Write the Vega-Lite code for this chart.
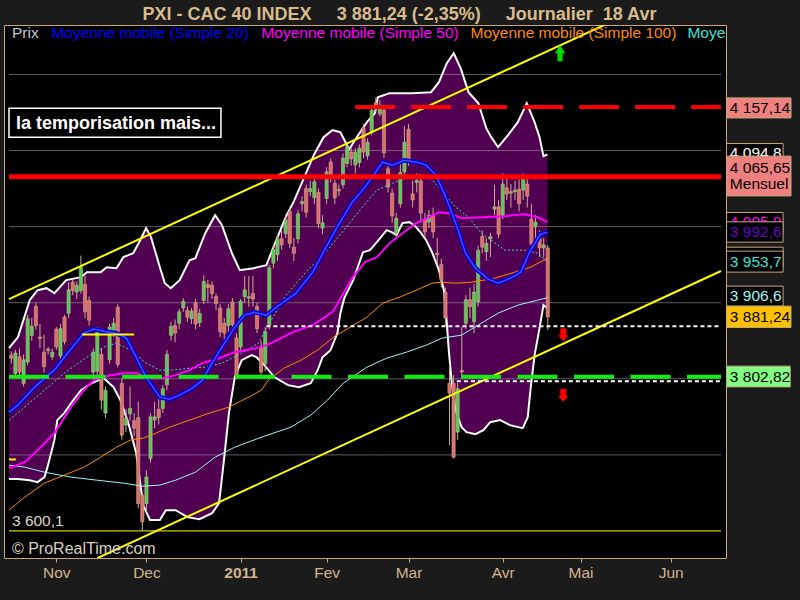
{
"$schema": "https://vega.github.io/schema/vega-lite/v6.json",
"width": 722, "height": 533,
"autosize": {"type": "none"},
"padding": {"left": 4, "top": 25, "right": 74, "bottom": 42},
"background": "#1b1b1b",
"config": {"view": {"stroke": "#c8aa78", "strokeWidth": 1, "fill": "#000000"}, "font": "Liberation Sans"},
"datasets": {
"up": [{"i":-11.56,"v":3840.3},{"i":-9.39,"v":3854.7},{"i":-6.5,"v":3903.4},{"i":-4.58,"v":3916.5},{"i":-2.41,"v":3919.1},{"i":-0.48,"v":3912.6},{"i":2.41,"v":3929.7},{"i":6.02,"v":3933.6},{"i":7.46,"v":3940.2},{"i":10.84,"v":3940.2},{"i":12.28,"v":3946.7},{"i":14.69,"v":3945.4},{"i":16.37,"v":3959.9},{"i":18.78,"v":3965.1},{"i":20.47,"v":3982.2},{"i":21.91,"v":3998},{"i":23.12,"v":3986.2},{"i":25.28,"v":3946.7},{"i":26.49,"v":3925.7},{"i":27.93,"v":3919.1},{"i":30.1,"v":3929.7},{"i":32.51,"v":3955.9},{"i":33.95,"v":3958.6},{"i":36.36,"v":3991.4},{"i":38.77,"v":4015.1},{"i":40.45,"v":4001.9},{"i":42.86,"v":3965.1},{"i":44.79,"v":3942.8},{"i":48.16,"v":3945.4},{"i":51.29,"v":3949.4},{"i":53.21,"v":3975.6},{"i":56.1,"v":4013.8},{"i":58.03,"v":4033.5},{"i":60.44,"v":4063.7},{"i":62.85,"v":4093.9},{"i":65.25,"v":4117.6},{"i":67.42,"v":4126.8},{"i":69.35,"v":4124.1},{"i":71.51,"v":4101.8},{"i":73.68,"v":4120.2},{"i":75.85,"v":4137.3},{"i":77.78,"v":4149.1},{"i":78.5,"v":4170.1},{"i":81.39,"v":4175.4},{"i":86.93,"v":4175.4},{"i":91.5,"v":4176.7},{"i":93.43,"v":4189.8},{"i":95.35,"v":4214.8},{"i":97.04,"v":4228},{"i":98.72,"v":4208.2},{"i":100.65,"v":4176.7},{"i":103.06,"v":4162.2},{"i":104.98,"v":4129.4},{"i":106.19,"v":4117.6},{"i":107.87,"v":4104.4},{"i":110.28,"v":4120.2},{"i":112.69,"v":4137.3},{"i":114.86,"v":4162.2},{"i":116.78,"v":4137.3},{"i":117.99,"v":4117.6},{"i":118.95,"v":4092.6},{"i":119.92,"v":4094.8}],
"lo": [{"i":-11.56,"v":3668.2},{"i":-9.39,"v":3668.2},{"i":-6.5,"v":3666.8},{"i":-4.58,"v":3664.2},{"i":-2.89,"v":3670.8},{"i":-2.17,"v":3683.9},{"i":-0.48,"v":3719.4},{"i":0.24,"v":3745.7},{"i":1.93,"v":3754.9},{"i":3.61,"v":3768},{"i":6.02,"v":3785.1},{"i":8.67,"v":3794.3},{"i":11.56,"v":3800.9},{"i":13.97,"v":3789},{"i":15.65,"v":3771.9},{"i":17.58,"v":3741.8},{"i":19.5,"v":3702.3},{"i":21.19,"v":3634},{"i":22.88,"v":3614.3},{"i":25.28,"v":3614.3},{"i":26.73,"v":3627.4},{"i":29.14,"v":3627.4},{"i":32.03,"v":3618.2},{"i":34.91,"v":3615.6},{"i":38.04,"v":3623.5},{"i":39.73,"v":3636.6},{"i":40.93,"v":3693.1},{"i":42.14,"v":3754.9},{"i":43.58,"v":3802.3},{"i":45.27,"v":3824.5},{"i":47.68,"v":3831.1},{"i":48.88,"v":3828.4},{"i":50.81,"v":3818},{"i":53.21,"v":3802.3},{"i":56.59,"v":3791.7},{"i":59.23,"v":3789},{"i":62.12,"v":3794.3},{"i":63.81,"v":3811.4},{"i":65.01,"v":3828.4},{"i":66.94,"v":3837.7},{"i":68.63,"v":3860},{"i":69.35,"v":3886.3},{"i":70.31,"v":3906},{"i":72.48,"v":3929.7},{"i":74.89,"v":3966.4},{"i":76.57,"v":3969.1},{"i":78.26,"v":3979.6},{"i":80.66,"v":3995.4},{"i":81.87,"v":3992.7},{"i":83.07,"v":3988.8},{"i":84.52,"v":4004.6},{"i":86.2,"v":4005.9},{"i":87.41,"v":4001.9},{"i":89.09,"v":3991.4},{"i":90.3,"v":3982.2},{"i":91.74,"v":3966.4},{"i":93.43,"v":3942.8},{"i":94.63,"v":3916.5},{"i":95.35,"v":3873.1},{"i":95.83,"v":3837.7},{"i":96.56,"v":3794.3},{"i":97.52,"v":3758.8},{"i":98.96,"v":3736.5},{"i":100.17,"v":3729.9},{"i":102.33,"v":3727.3},{"i":104.26,"v":3732.5},{"i":105.95,"v":3743},{"i":108.36,"v":3745.7},{"i":110.76,"v":3739.1},{"i":113.89,"v":3735.2},{"i":115.1,"v":3749.6},{"i":115.82,"v":3787.7},{"i":116.78,"v":3831.1},{"i":117.99,"v":3866.6},{"i":118.95,"v":3896.8},{"i":119.92,"v":3892.8}],
"sma20": [{"i":-11.56,"v":3756.2},{"i":-9.39,"v":3765.4},{"i":-6.02,"v":3785.1},{"i":-2.89,"v":3800.9},{"i":-0.48,"v":3811.4},{"i":1.93,"v":3828.4},{"i":4.33,"v":3844.2},{"i":6.74,"v":3860},{"i":9.15,"v":3865.3},{"i":11.56,"v":3862.6},{"i":14.69,"v":3860},{"i":17.1,"v":3853.4},{"i":19.5,"v":3828.4},{"i":21.91,"v":3802.3},{"i":25.28,"v":3775.9},{"i":27.69,"v":3773.3},{"i":30.1,"v":3778.5},{"i":33.23,"v":3787.7},{"i":35.64,"v":3798.2},{"i":38.04,"v":3820.6},{"i":40.45,"v":3841.6},{"i":43.58,"v":3867.9},{"i":45.99,"v":3883.7},{"i":48.4,"v":3887.6},{"i":51.29,"v":3883.7},{"i":54.42,"v":3896.8},{"i":58.51,"v":3912.6},{"i":62.61,"v":3940.2},{"i":65.74,"v":3971.7},{"i":68.87,"v":4001.9},{"i":72.24,"v":4032.1},{"i":75.37,"v":4051.9},{"i":77.78,"v":4070.3},{"i":79.7,"v":4084.7},{"i":82.11,"v":4080.8},{"i":85,"v":4087.3},{"i":88.13,"v":4084.7},{"i":90.3,"v":4080.8},{"i":92.7,"v":4067.6},{"i":95.11,"v":4038.7},{"i":97.52,"v":4004.6},{"i":99.93,"v":3965.1},{"i":102.34,"v":3945.4},{"i":105.47,"v":3931},{"i":107.87,"v":3925.7},{"i":111,"v":3932.3},{"i":113.41,"v":3940.2},{"i":115.82,"v":3969.1},{"i":118.23,"v":3990},{"i":119.92,"v":3992.6}],
"sma50": [{"i":-11.56,"v":3682.6},{"i":-7.71,"v":3690.5},{"i":-4.58,"v":3706.3},{"i":-0.48,"v":3728.6},{"i":3.61,"v":3762.8},{"i":6.74,"v":3785.1},{"i":9.15,"v":3798.2},{"i":13.24,"v":3804.8},{"i":16.37,"v":3807.4},{"i":19.5,"v":3807.4},{"i":22.88,"v":3800.9},{"i":26.01,"v":3800.9},{"i":29.14,"v":3804.8},{"i":32.51,"v":3811.4},{"i":35.64,"v":3820.6},{"i":39.73,"v":3827.1},{"i":43.58,"v":3835},{"i":50.08,"v":3841.6},{"i":52.97,"v":3848.2},{"i":57.79,"v":3861.3},{"i":62.61,"v":3870.5},{"i":67.42,"v":3887.6},{"i":69.83,"v":3909.9},{"i":72.24,"v":3932.3},{"i":75.37,"v":3953.3},{"i":78.26,"v":3959.9},{"i":81.39,"v":3978.3},{"i":84.52,"v":3991.4},{"i":87.89,"v":4004.6},{"i":91.02,"v":4012.4},{"i":93.43,"v":4019},{"i":95.83,"v":4017.7},{"i":98.96,"v":4011.1},{"i":103.78,"v":4012.4},{"i":109.56,"v":4013.8},{"i":114.38,"v":4016.4},{"i":117.51,"v":4012.4},{"i":119.92,"v":4005.9}],
"sma100": [{"i":-11.56,"v":3627.4},{"i":-7.71,"v":3644.5},{"i":-2.89,"v":3662.9},{"i":1.93,"v":3673.4},{"i":6.74,"v":3683.9},{"i":10.84,"v":3697},{"i":14.69,"v":3710.2},{"i":18.06,"v":3719.4},{"i":21.19,"v":3722},{"i":24.32,"v":3728.6},{"i":27.69,"v":3736.5},{"i":32.51,"v":3745.7},{"i":37.32,"v":3754.9},{"i":42.14,"v":3762.8},{"i":46.95,"v":3775.9},{"i":50.08,"v":3785.1},{"i":51.77,"v":3798.2},{"i":55.62,"v":3814},{"i":59.72,"v":3824.5},{"i":63.81,"v":3837.7},{"i":67.66,"v":3854.7},{"i":71.76,"v":3867.9},{"i":75.85,"v":3881},{"i":79.7,"v":3899.4},{"i":83.8,"v":3907.3},{"i":87.89,"v":3916.5},{"i":91.74,"v":3925.7},{"i":94.15,"v":3927},{"i":97.52,"v":3925.7},{"i":101.37,"v":3927},{"i":107.15,"v":3932.3},{"i":111.97,"v":3940.2},{"i":115.82,"v":3946.7},{"i":119.92,"v":3958.6}],
"sma200": [{"i":-11.56,"v":3686.5},{"i":-7.71,"v":3683.9},{"i":-2.89,"v":3677.3},{"i":3.61,"v":3670.8},{"i":9.87,"v":3666.8},{"i":16.37,"v":3662.9},{"i":21.19,"v":3658.9},{"i":25.28,"v":3660.3},{"i":29.14,"v":3666.8},{"i":33.95,"v":3677.3},{"i":38.77,"v":3697},{"i":43.58,"v":3710.2},{"i":50.08,"v":3723.3},{"i":57.31,"v":3736.5},{"i":62.12,"v":3752.2},{"i":66.22,"v":3772},{"i":70.07,"v":3794.3},{"i":75.85,"v":3815.3},{"i":80.66,"v":3827.1},{"i":85.48,"v":3835},{"i":90.3,"v":3844.2},{"i":94.15,"v":3853.4},{"i":98.96,"v":3857.4},{"i":103.78,"v":3873.1},{"i":107.87,"v":3886.3},{"i":112.69,"v":3896.8},{"i":117.51,"v":3903.4},{"i":119.92,"v":3906.6}],
"ema": [{"i":-11.56,"v":3745.7},{"i":-7.71,"v":3762.8},{"i":-2.89,"v":3785.1},{"i":1.93,"v":3807.4},{"i":7.46,"v":3828.4},{"i":11.56,"v":3841.6},{"i":14.69,"v":3846.9},{"i":18.06,"v":3837.7},{"i":21.91,"v":3820.6},{"i":25.28,"v":3811.4},{"i":28.41,"v":3811.4},{"i":32.51,"v":3814},{"i":36.36,"v":3815.3},{"i":40.45,"v":3820.6},{"i":45.27,"v":3833.7},{"i":49.36,"v":3846.9},{"i":51.29,"v":3866},{"i":56.1,"v":3909.9},{"i":60.92,"v":3940.2},{"i":65.74,"v":3966.4},{"i":69.83,"v":3992.7},{"i":73.68,"v":4019},{"i":78.26,"v":4047.9},{"i":82.11,"v":4057.1},{"i":86.2,"v":4065},{"i":89.09,"v":4069},{"i":91.02,"v":4065},{"i":94.15,"v":4047.9},{"i":97.52,"v":4025.6},{"i":100.65,"v":4012.4},{"i":103.78,"v":3991.4},{"i":107.15,"v":3978.3},{"i":109.56,"v":3969.1},{"i":114.38,"v":3969.1},{"i":117.51,"v":3965.1},{"i":119.92,"v":3953.7}],
"candles": [
{"i":-11,"o":3831,"h":3836,"l":3820,"c":3827},{"i":-10,"o":3807,"h":3838,"l":3803,"c":3834},{"i":-9,"o":3829,"h":3840,"l":3800,"c":3809},{"i":-8,"o":3794,"h":3832,"l":3790,"c":3825},{"i":-7,"o":3822,"h":3884,"l":3818,"c":3879},{"i":-6,"o":3857,"h":3880,"l":3850,"c":3869},{"i":-5,"o":3895,"h":3900,"l":3865,"c":3870},{"i":-4,"o":3855,"h":3872,"l":3840,"c":3853},{"i":-3,"o":3835,"h":3858,"l":3808,"c":3816},{"i":-2,"o":3839,"h":3842,"l":3832,"c":3837},{"i":-1,"o":3829,"h":3840,"l":3825,"c":3835},
{"i":0,"o":3865,"h":3868,"l":3838,"c":3842},{"i":1,"o":3830,"h":3872,"l":3826,"c":3866},{"i":2,"o":3881,"h":3884,"l":3845,"c":3849},{"i":3,"o":3886,"h":3927,"l":3880,"c":3917},{"i":4,"o":3927,"h":3930,"l":3910,"c":3916},{"i":5,"o":3914,"h":3928,"l":3905,"c":3923},{"i":6,"o":3916,"h":3962,"l":3912,"c":3947},{"i":7,"o":3924,"h":3935,"l":3880,"c":3888},{"i":8,"o":3903,"h":3908,"l":3870,"c":3877},{"i":9,"o":3809,"h":3840,"l":3800,"c":3835},{"i":10,"o":3810,"h":3868,"l":3805,"c":3862},
{"i":11,"o":3832,"h":3840,"l":3760,"c":3772},{"i":12,"o":3755,"h":3790,"l":3748,"c":3785},{"i":13,"o":3825,"h":3872,"l":3820,"c":3868},{"i":14,"o":3862,"h":3880,"l":3855,"c":3873},{"i":15,"o":3894,"h":3898,"l":3815,"c":3819},{"i":16,"o":3794,"h":3800,"l":3720,"c":3726},{"i":17,"o":3739,"h":3760,"l":3730,"c":3748},{"i":18,"o":3754,"h":3790,"l":3745,"c":3761},{"i":19,"o":3745,"h":3755,"l":3725,"c":3735},{"i":20,"o":3749,"h":3770,"l":3630,"c":3636},
{"i":21,"o":3647,"h":3650,"l":3600.1,"c":3612},{"i":22,"o":3636,"h":3680,"l":3625,"c":3671},{"i":23,"o":3695,"h":3755,"l":3690,"c":3750},{"i":24,"o":3746,"h":3770,"l":3735,"c":3750},{"i":25,"o":3760,"h":3775,"l":3740,"c":3749},{"i":26,"o":3761,"h":3792,"l":3755,"c":3787},{"i":27,"o":3792,"h":3838,"l":3785,"c":3832},{"i":28,"o":3857,"h":3875,"l":3850,"c":3869},{"i":29,"o":3870,"h":3878,"l":3848,"c":3860},{"i":30,"o":3873,"h":3892,"l":3865,"c":3888},
{"i":31,"o":3893,"h":3906,"l":3888,"c":3902},{"i":32,"o":3890,"h":3895,"l":3875,"c":3881},{"i":33,"o":3879,"h":3893,"l":3872,"c":3889},{"i":34,"o":3900,"h":3905,"l":3865,"c":3872},{"i":35,"o":3874,"h":3892,"l":3868,"c":3886},{"i":36,"o":3903,"h":3936,"l":3898,"c":3928},{"i":37,"o":3924,"h":3930,"l":3900,"c":3920},{"i":38,"o":3923,"h":3928,"l":3905,"c":3912},{"i":39,"o":3908,"h":3912,"l":3890,"c":3899},{"i":40,"o":3893,"h":3898,"l":3855,"c":3862},
{"i":41,"o":3873,"h":3880,"l":3852,"c":3860},{"i":42,"o":3870,"h":3898,"l":3862,"c":3892},{"i":43,"o":3901,"h":3906,"l":3865,"c":3871},{"i":44,"o":3854,"h":3860,"l":3800,"c":3805},{"i":45,"o":3842,"h":3905,"l":3835,"c":3902},{"i":46,"o":3908,"h":3935,"l":3900,"c":3917},{"i":47,"o":3906,"h":3935,"l":3895,"c":3908},{"i":48,"o":3912,"h":3935,"l":3895,"c":3905},{"i":49,"o":3895,"h":3900,"l":3860,"c":3866},{"i":50,"o":3842,"h":3850,"l":3800,"c":3809},
{"i":51,"o":3820,"h":3868,"l":3810,"c":3862},{"i":52,"o":3871,"h":3950,"l":3865,"c":3946},{"i":53,"o":3952,"h":3976,"l":3945,"c":3970},{"i":54,"o":3963,"h":3990,"l":3955,"c":3984},{"i":55,"o":3984,"h":3995,"l":3970,"c":3976},{"i":56,"o":3991,"h":4015,"l":3985,"c":4009},{"i":57,"o":4020,"h":4025,"l":3972,"c":3978},{"i":58,"o":3973,"h":3985,"l":3955,"c":3965},{"i":59,"o":3984,"h":4022,"l":3978,"c":4017},{"i":60,"o":4030,"h":4040,"l":4020,"c":4033},
{"i":61,"o":4050,"h":4055,"l":4012,"c":4019},{"i":62,"o":4046,"h":4060,"l":4040,"c":4050},{"i":63,"o":4038,"h":4065,"l":4030,"c":4059},{"i":64,"o":4045,"h":4050,"l":3998,"c":4004},{"i":65,"o":3998,"h":4015,"l":3990,"c":4005},{"i":66,"o":4037,"h":4078,"l":4030,"c":4072},{"i":67,"o":4085,"h":4090,"l":4058,"c":4065},{"i":68,"o":4057,"h":4062,"l":4030,"c":4038},{"i":69,"o":4049,"h":4055,"l":4040,"c":4047},{"i":70,"o":4055,"h":4096,"l":4050,"c":4090},
{"i":71,"o":4083,"h":4110,"l":4078,"c":4105},{"i":72,"o":4098,"h":4103,"l":4080,"c":4089},{"i":73,"o":4081,"h":4103,"l":4070,"c":4098},{"i":74,"o":4084,"h":4108,"l":4078,"c":4103},{"i":75,"o":4130,"h":4135,"l":4090,"c":4098},{"i":76,"o":4093,"h":4116,"l":4088,"c":4111},{"i":77,"o":4125,"h":4160,"l":4120,"c":4153},{"i":78,"o":4163,"h":4170,"l":4150,"c":4157},{"i":79,"o":4148,"h":4166,"l":4145,"c":4157.14},{"i":80,"o":4153,"h":4157,"l":4090,"c":4097},
{"i":81,"o":4076,"h":4085,"l":4045,"c":4052},{"i":82,"o":4044,"h":4050,"l":4005,"c":4014},{"i":83,"o":3991,"h":4018,"l":3985,"c":4011},{"i":84,"o":4030,"h":4085,"l":4025,"c":4071},{"i":85,"o":4072,"h":4132,"l":4068,"c":4111},{"i":86,"o":4128,"h":4135,"l":4080,"c":4085},{"i":87,"o":4043,"h":4060,"l":4025,"c":4035},{"i":88,"o":4058,"h":4070,"l":4045,"c":4061},{"i":89,"o":4060,"h":4068,"l":4005,"c":4018},{"i":90,"o":4010,"h":4018,"l":3985,"c":3993},
{"i":91,"o":4006,"h":4022,"l":3998,"c":4015},{"i":92,"o":4015,"h":4025,"l":3985,"c":3993},{"i":93,"o":3965,"h":3985,"l":3950,"c":3963},{"i":94,"o":3950,"h":3958,"l":3920,"c":3930},{"i":95,"o":3914,"h":3920,"l":3870,"c":3880},{"i":96,"o":3794,"h":3820,"l":3713,"c":3781},{"i":97,"o":3794,"h":3805,"l":3695,"c":3697},{"i":98,"o":3730,"h":3795,"l":3720,"c":3787},{"i":99,"o":3811,"h":3868,"l":3800,"c":3809},{"i":100,"o":3873,"h":3910,"l":3865,"c":3904},
{"i":101,"o":3904,"h":3920,"l":3880,"c":3895},{"i":102,"o":3875,"h":3925,"l":3860,"c":3914},{"i":103,"o":3901,"h":3975,"l":3895,"c":3969},{"i":104,"o":3987,"h":3995,"l":3965,"c":3973},{"i":105,"o":3967,"h":3985,"l":3955,"c":3978},{"i":106,"o":3984,"h":3992,"l":3960,"c":3987},{"i":107,"o":4023,"h":4055,"l":4015,"c":4026},{"i":108,"o":4026,"h":4035,"l":3985,"c":3990},{"i":109,"o":4015,"h":4070,"l":4010,"c":4056},{"i":110,"o":4051,"h":4066,"l":4035,"c":4043},
{"i":111,"o":4044,"h":4056,"l":4025,"c":4046},{"i":112,"o":4046,"h":4060,"l":4035,"c":4048},{"i":113,"o":4049,"h":4062,"l":4020,"c":4030},{"i":114,"o":4048,"h":4070,"l":4035,"c":4062},{"i":115,"o":4056,"h":4065,"l":4025,"c":4040},{"i":116,"o":4010,"h":4030,"l":3970,"c":3977},{"i":117,"o":4000,"h":4015,"l":3985,"c":4006},{"i":118,"o":3985,"h":3995,"l":3960,"c":3972},{"i":119,"o":3972,"h":3985,"l":3960,"c":3976},{"i":120,"o":3972,"h":3976,"l":3864,"c":3881.24}
]
},
"encoding": {"x": {"field": "i", "type": "quantitative", "scale": {"domain": [-11.56, 162.3], "nice": false, "zero": false},
  "axis": {"title": null, "values": [0,22,45,66,86,109,128,150], "labelExpr": "datum.value == 0 ? 'Nov' : datum.value == 22 ? 'Dec' : datum.value == 45 ? '2011' : datum.value == 66 ? 'Fev' : datum.value == 86 ? 'Mar' : datum.value == 109 ? 'Avr' : datum.value == 128 ? 'Mai' : 'Jun'", "labelFontWeight": {"condition": {"test": "datum.value == 45", "value": "bold"}, "value": "normal"}, "labelColor": "#d2b48c", "labelFontSize": 15.5, "labelFont": "Liberation Sans", "tickColor": "#c8aa78", "tickSize": 4, "domain": false, "grid": false, "labelPadding": 3, "labelFlush": false, "labelOverlap": false}}},
"layer": [
{"data": {"name": "up"}, "mark": {"type": "area", "color": "#510051"},
 "encoding": {"y": {"field": "v", "type": "quantitative", "scale": {"domain": [3564.5, 4265], "nice": false, "zero": false},
   "axis": {"orient": "right", "title": null, "values": [3600,3700,3800,3900,4000,4100,4200], "labelExpr": "datum.value == 3600 ? '3 600' : datum.value == 3700 ? '3 700' : datum.value == 4200 ? '4 200' : ''", "labelColor": "#d2b48c", "labelFontSize": 15.5, "labelFont": "Liberation Sans", "tickColor": "#a09888", "tickSize": 6, "domain": false, "grid": false, "labelPadding": 3}},
  "y2": {"datum": 3567}}},
{"data": {"name": "lo"}, "mark": {"type": "area", "color": "#000000", "stroke": "#000000", "strokeWidth": 1.5},
 "encoding": {"y": {"field": "v", "type": "quantitative", "axis": null}, "y2": {"datum": 3567}}},
{"data": {"values": [{"i":-11.56,"i2":162.3,"v":3700},{"i":-11.56,"i2":162.3,"v":3800},{"i":-11.56,"i2":162.3,"v":3900},{"i":-11.56,"i2":162.3,"v":4000},{"i":-11.56,"i2":162.3,"v":4100},{"i":-11.56,"i2":162.3,"v":4200}]},
 "mark": {"type": "rule", "color": "#9a9a9a", "opacity": 0.6, "strokeWidth": 1},
 "encoding": {"x2": {"field": "i2"}, "y": {"field": "v", "type": "quantitative", "axis": null}}},
{"data": {"values": [{"i":-11.56,"i2":162.3,"v":3600.1}]},
 "mark": {"type": "rule", "color": "#ffff00", "strokeWidth": 1},
 "encoding": {"x2": {"field": "i2"}, "y": {"field": "v", "type": "quantitative", "axis": null}}},
{"data": {"name": "up"}, "mark": {"type": "line", "color": "#ffffff", "strokeWidth": 2},
 "encoding": {"y": {"field": "v", "type": "quantitative", "axis": null}}},
{"data": {"name": "lo"}, "mark": {"type": "line", "color": "#ffffff", "strokeWidth": 2},
 "encoding": {"y": {"field": "v", "type": "quantitative", "axis": null}}},
{"data": {"name": "candles"}, "mark": {"type": "rule", "color": "#c8b08c", "strokeWidth": 1},
 "encoding": {"y": {"field": "l", "type": "quantitative", "axis": null}, "y2": {"field": "h"}}},
{"data": {"name": "candles"}, "mark": {"type": "bar", "width": 3.2, "stroke": "#c8b08c", "strokeWidth": 0.6},
 "encoding": {"y": {"field": "o", "type": "quantitative", "axis": null}, "y2": {"field": "c"},
  "fill": {"condition": {"test": "datum.c >= datum.o", "value": "#52cf52"}, "value": "#e06c6c"}}},
{"data": {"name": "sma100"}, "mark": {"type": "line", "color": "#ff8c00", "strokeWidth": 1},
 "encoding": {"y": {"field": "v", "type": "quantitative", "axis": null}}},
{"data": {"name": "sma200"}, "mark": {"type": "line", "color": "#9ff5f5", "strokeWidth": 1},
 "encoding": {"y": {"field": "v", "type": "quantitative", "axis": null}}},
{"data": {"name": "ema"}, "mark": {"type": "line", "color": "#40e0d0", "strokeWidth": 1, "strokeDash": [2, 2]},
 "encoding": {"y": {"field": "v", "type": "quantitative", "axis": null}}},
{"data": {"name": "sma50"}, "mark": {"type": "line", "color": "#ff00ff", "strokeWidth": 2},
 "encoding": {"y": {"field": "v", "type": "quantitative", "axis": null}}},
{"data": {"name": "sma20"}, "mark": {"type": "line", "color": "#0000d8", "strokeWidth": 4.5},
 "encoding": {"y": {"field": "v", "type": "quantitative", "axis": null}}},
{"data": {"name": "sma20"}, "mark": {"type": "line", "color": "#4a4aff", "strokeWidth": 1.5},
 "encoding": {"y": {"field": "v", "type": "quantitative", "axis": null}}},
{"data": {"values": [{"i":-11.56,"v":3904.7,"i2":134.5,"v2":4266.7},{"i":10,"v":3564.3,"i2":162.3,"v2":3941.7}]},
 "mark": {"type": "rule", "color": "#ffff00", "strokeWidth": 2, "clip": true},
 "encoding": {"x2": {"field": "i2"}, "y": {"field": "v", "type": "quantitative", "axis": null}, "y2": {"field": "v2"}}},
{"data": {"values": [{"i":6.26,"i2":19.0,"v":3858.3},{"i":-11.56,"i2":-9.9,"v":3694}]},
 "mark": {"type": "rule", "color": "#ffff00", "strokeWidth": 2},
 "encoding": {"x2": {"field": "i2"}, "y": {"field": "v", "type": "quantitative", "axis": null}}},
{"data": {"values": [{"i":51.3,"i2":162.3,"v":3869.2},{"i":97.8,"i2":162.3,"v":3796.9}]},
 "mark": {"type": "rule", "color": "#ffffff", "strokeWidth": 2, "strokeDash": [4, 3]},
 "encoding": {"x2": {"field": "i2"}, "y": {"field": "v", "type": "quantitative", "axis": null}}},
{"data": {"values": [{"i":-11.56,"i2":162.3,"v":3802.82}]},
 "mark": {"type": "rule", "color": "#11ee11", "strokeWidth": 4, "strokeDash": [40, 16.5]},
 "encoding": {"x2": {"field": "i2"}, "y": {"field": "v", "type": "quantitative", "axis": null}}},
{"data": {"values": [{"i":72.96,"i2":162.3,"v":4157.14}]},
 "mark": {"type": "rule", "color": "#ff0000", "strokeWidth": 4, "strokeDash": [40, 16]},
 "encoding": {"x2": {"field": "i2"}, "y": {"field": "v", "type": "quantitative", "axis": null}}},
{"data": {"values": [{"i":-11.56,"i2":162.3,"v":4065.65}]},
 "mark": {"type": "rule", "color": "#ff0000", "strokeWidth": 5},
 "encoding": {"x2": {"field": "i2"}, "y": {"field": "v", "type": "quantitative", "axis": null}}},
{"data": {"values": [{"i":123.0,"v":4228}]},
 "mark": {"type": "point", "shape": "M0,-1L0.65,0L0.32,0L0.32,1L-0.32,1L-0.32,0L-0.65,0Z", "size": 256, "filled": true, "color": "#00dd00", "opacity": 1, "strokeWidth": 0},
 "encoding": {"y": {"field": "v", "type": "quantitative", "axis": null}}},
{"data": {"values": [{"i":123.8,"v":3858},{"i":123.8,"v":3778.5}]},
 "mark": {"type": "point", "shape": "M0,1L0.82,0.08L0.46,0.08L0.46,-1L-0.46,-1L-0.46,0.08L-0.82,0.08Z", "size": 169, "filled": true, "color": "#ff0000", "opacity": 1, "strokeWidth": 0},
 "encoding": {"y": {"field": "v", "type": "quantitative", "axis": null}}},
{"data": {"values": [{"i":83.8,"v":4271.3,"t":"PXI - CAC 40 INDEX\u00a0\u00a0\u00a0\u00a0 3 881,24 (-2,35%)\u00a0\u00a0\u00a0\u00a0 Journalier\u00a0 18 Avr"}]},
 "mark": {"type": "text", "align": "center", "baseline": "alphabetic", "fontSize": 18, "fontWeight": "bold", "color": "#d8bc8c"},
 "encoding": {"y": {"field": "v", "type": "quantitative", "axis": null}, "text": {"field": "t"}}},
{"data": {"values": [{"i":-10.84,"v":4254.2,"t":"Prix"}]},
 "mark": {"type": "text", "align": "left", "baseline": "middle", "fontSize": 15.5, "color": "#c8c8c8"},
 "encoding": {"y": {"field": "v", "type": "quantitative", "axis": null}, "text": {"field": "t"}}},
{"data": {"values": [{"i":-1.2,"v":4254.2,"t":"Moyenne mobile (Simple 20)"}]},
 "mark": {"type": "text", "align": "left", "baseline": "middle", "fontSize": 15.5, "color": "#0000ff"},
 "encoding": {"y": {"field": "v", "type": "quantitative", "axis": null}, "text": {"field": "t"}}},
{"data": {"values": [{"i":50.08,"v":4254.2,"t":"Moyenne mobile (Simple 50)"}]},
 "mark": {"type": "text", "align": "left", "baseline": "middle", "fontSize": 15.5, "color": "#ff00ff"},
 "encoding": {"y": {"field": "v", "type": "quantitative", "axis": null}, "text": {"field": "t"}}},
{"data": {"values": [{"i":101.13,"v":4254.2,"t":"Moyenne mobile (Simple 100)"}]},
 "mark": {"type": "text", "align": "left", "baseline": "middle", "fontSize": 15.5, "color": "#ff8c00"},
 "encoding": {"y": {"field": "v", "type": "quantitative", "axis": null}, "text": {"field": "t"}}},
{"data": {"values": [{"i":154.1,"v":4254.2,"t":"Moyenne mobile (Simple 200)"}]},
 "mark": {"type": "text", "align": "left", "baseline": "middle", "fontSize": 15.5, "color": "#40e0d0", "clip": true},
 "encoding": {"y": {"field": "v", "type": "quantitative", "axis": null}, "text": {"field": "t"}}},
{"data": {"values": [{"i":-11.56,"i2":40.2,"v":4155.7,"v2":4117.6}]},
 "mark": {"type": "rect", "fill": "#000000", "stroke": "#ffffff", "strokeWidth": 1.5},
 "encoding": {"x2": {"field": "i2"}, "y": {"field": "v", "type": "quantitative", "axis": null}, "y2": {"field": "v2"}}},
{"data": {"values": [{"i":-9.87,"v":4135,"t":"la temporisation mais..."}]},
 "mark": {"type": "text", "align": "left", "baseline": "middle", "fontSize": 18, "fontWeight": "bold", "color": "#ffffff"},
 "encoding": {"y": {"field": "v", "type": "quantitative", "axis": null}, "text": {"field": "t"}}},
{"data": {"values": [{"i":-10.84,"v":3613,"t":"3 600,1"}]},
 "mark": {"type": "text", "align": "left", "baseline": "middle", "fontSize": 15.5, "color": "#ddd6c8"},
 "encoding": {"y": {"field": "v", "type": "quantitative", "axis": null}, "text": {"field": "t"}}},
{"data": {"values": [{"i":-10.84,"v":3576.2,"t":"© ProRealTime.com"}]},
 "mark": {"type": "text", "align": "left", "baseline": "middle", "fontSize": 16, "color": "#d8d0c0"},
 "encoding": {"y": {"field": "v", "type": "quantitative", "axis": null}, "text": {"field": "t"}}},
{"data": {"values": [{"i":163.66,"i2":177.46,"v":4109.3,"v2":4083},{"i":163.66,"i2":177.46,"v":4018.6,"v2":3992.7},{"i":163.66,"i2":177.46,"v":3973,"v2":3946.7},{"i":163.66,"i2":177.46,"v":3921.8,"v2":3895.5}]},
 "mark": {"type": "rect", "fill": "#000000", "stroke": "#c8aa78", "strokeWidth": 1},
 "encoding": {"x2": {"field": "i2"}, "y": {"field": "v", "type": "quantitative", "axis": null}, "y2": {"field": "v2"}}},
{"data": {"values": [{"i":164.46,"v":4096.5,"t":"4 094,8"}]},
 "mark": {"type": "text", "align": "left", "baseline": "middle", "fontSize": 15.5, "color": "#ffffff"},
 "encoding": {"y": {"field": "v", "type": "quantitative", "axis": null}, "text": {"field": "t"}}},
{"data": {"values": [{"i":164.46,"v":4006,"t":"4 005,9"}]},
 "mark": {"type": "text", "align": "left", "baseline": "middle", "fontSize": 15.5, "color": "#ff00ff"},
 "encoding": {"y": {"field": "v", "type": "quantitative", "axis": null}, "text": {"field": "t"}}},
{"data": {"values": [{"i":164.46,"v":3908.6,"t":"3 906,6"}]},
 "mark": {"type": "text", "align": "left", "baseline": "middle", "fontSize": 15.5, "color": "#9ff5f5"},
 "encoding": {"y": {"field": "v", "type": "quantitative", "axis": null}, "text": {"field": "t"}}},
{"data": {"values": [{"i":163.66,"i2":179.39,"v":4169.2,"v2":4142.9},{"i":163.66,"i2":179.39,"v":4092.6,"v2":4040.4}]},
 "mark": {"type": "rect", "fill": "#f08080", "stroke": "#c8aa78", "strokeWidth": 1},
 "encoding": {"x2": {"field": "i2"}, "y": {"field": "v", "type": "quantitative", "axis": null}, "y2": {"field": "v2"}}},
{"data": {"values": [{"i":163.66,"i2":177.46,"v":4006.3,"v2":3979.6},{"i":163.66,"i2":177.46,"v":3967.8,"v2":3940.2}]},
 "mark": {"type": "rect", "fill": "#000000", "stroke": "#c8aa78", "strokeWidth": 1},
 "encoding": {"x2": {"field": "i2"}, "y": {"field": "v", "type": "quantitative", "axis": null}, "y2": {"field": "v2"}}},
{"data": {"values": [{"i":164.46,"v":4156.1,"t":"4 157,14"},{"i":164.46,"v":4077,"t":"4 065,65"},{"i":164.46,"v":4055.5,"t":"Mensuel"}]},
 "mark": {"type": "text", "align": "left", "baseline": "middle", "fontSize": 15.5, "color": "#000000"},
 "encoding": {"y": {"field": "v", "type": "quantitative", "axis": null}, "text": {"field": "t"}}},
{"data": {"values": [{"i":164.46,"v":3993,"t":"3 992,6"}]},
 "mark": {"type": "text", "align": "left", "baseline": "middle", "fontSize": 15.5, "color": "#6a00c8"},
 "encoding": {"y": {"field": "v", "type": "quantitative", "axis": null}, "text": {"field": "t"}}},
{"data": {"values": [{"i":164.46,"v":3954,"t":"3 953,7"}]},
 "mark": {"type": "text", "align": "left", "baseline": "middle", "fontSize": 15.5, "color": "#40e0d0"},
 "encoding": {"y": {"field": "v", "type": "quantitative", "axis": null}, "text": {"field": "t"}}},
{"data": {"values": [{"i":163.66,"i2":179.39,"v":3895.5,"v2":3867.5}]},
 "mark": {"type": "rect", "fill": "#ffc000", "stroke": "#c8aa78", "strokeWidth": 1},
 "encoding": {"x2": {"field": "i2"}, "y": {"field": "v", "type": "quantitative", "axis": null}, "y2": {"field": "v2"}}},
{"data": {"values": [{"i":163.66,"i2":179.2,"v":3816.6,"v2":3789.4}]},
 "mark": {"type": "rect", "fill": "#80ff80", "stroke": "#c8aa78", "strokeWidth": 1},
 "encoding": {"x2": {"field": "i2"}, "y": {"field": "v", "type": "quantitative", "axis": null}, "y2": {"field": "v2"}}},
{"data": {"values": [{"i":164.46,"v":3881.4,"t":"3 881,24"},{"i":164.46,"v":3803,"t":"3 802,82"}]},
 "mark": {"type": "text", "align": "left", "baseline": "middle", "fontSize": 15.5, "color": "#000000"},
 "encoding": {"y": {"field": "v", "type": "quantitative", "axis": null}, "text": {"field": "t"}}}
]
}
